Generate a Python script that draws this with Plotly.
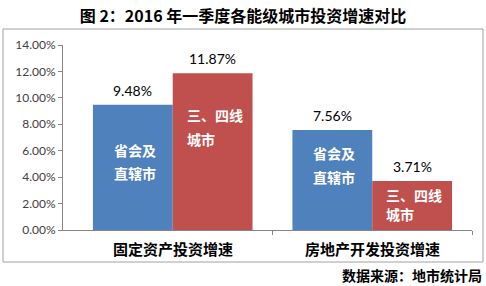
import plotly.graph_objects as go

categories = ["固定资产投资增速", "房地产开发投资增速"]
series_names = ["省会及<br>直辖市", "三、四线<br>城市"]
blue_values = [9.48, 7.56]
red_values = [11.87, 3.71]
y_ticks = [0, 2, 4, 6, 8, 10, 12, 14]

BLUE = "#4F81BD"
RED = "#C0504D"
AXIS = "#868686"
CJK = "Noto Sans CJK SC"
NUM = "Lato"

# pixel offsets (below bar top) of the two inner label lines, per bar
blue_line_offsets = [(45, 68), (23, 47)]
red_line_offsets = [(42, 66), (14, 33)]

xs = list(range(len(categories)))
fig = go.Figure()
fig.add_bar(x=xs, y=blue_values, marker=dict(color=BLUE, line=dict(width=0)), hoverinfo="skip")
fig.add_bar(x=xs, y=red_values, marker=dict(color=RED, line=dict(width=0)), hoverinfo="skip")

annotations = []
for vals, offset, names_off, label in [
    (blue_values, -0.2, blue_line_offsets, series_names[0]),
    (red_values, 0.2, red_line_offsets, series_names[1]),
]:
    lines = label.split("<br>")
    longest = max(len(l) for l in lines)
    for i, v in enumerate(vals):
        annotations.append(dict(
            x=i + offset, y=v, xref="x", yref="y", text=f"{v:.2f}%",
            showarrow=False, yanchor="middle", yshift=14.5,
            font=dict(family=NUM, size=14, color="#000000")))
        for li, line in enumerate(lines):
            annotations.append(dict(
                x=i + offset, y=v, xref="x", yref="y", text=line,
                showarrow=False, xanchor="left", yanchor="middle",
                xshift=-14 * longest / 2, yshift=-names_off[i][li],
                font=dict(family=CJK, size=14, color="#FFFFFF", weight="bold")))

for i, c in enumerate(categories):
    annotations.append(dict(
        x=i, y=-0.1027, xref="x", yref="paper", text=c, showarrow=False,
        yanchor="middle", font=dict(family=CJK, size=15, color="#000000", weight="bold")))

annotations.append(dict(
    x=1.029, y=-0.243, xref="paper", yref="paper", text="数据来源：地市统计局",
    showarrow=False, xanchor="right", yanchor="middle",
    font=dict(family=CJK, size=14, color="#000000", weight="bold")))

fig.update_layout(
    width=486, height=286,
    margin=dict(l=63, r=14, t=45, b=56),
    paper_bgcolor="white", plot_bgcolor="white",
    barmode="group", bargap=0.2, bargroupgap=0,
    showlegend=False,
    title=dict(text="图 2：2016 年一季度各能级城市投资增速对比", x=0.5, xref="container",
               y=1 - 16 / 286, yref="container", xanchor="center", yanchor="middle",
               font=dict(family=CJK, size=16, color="#000000", weight="bold")),
    xaxis=dict(range=[-0.55, 1.5], tickvals=[0.5, 1.5], ticktext=["", ""],
               ticks="outside", ticklen=4, tickcolor=AXIS, showline=True,
               linecolor=AXIS, linewidth=1, showgrid=False, zeroline=False,
               fixedrange=True),
    yaxis=dict(range=[0, 14], tickvals=y_ticks, ticktext=[f"{t:.2f}%" for t in y_ticks],
               ticks="outside", ticklen=4, tickcolor=AXIS, showline=True,
               linecolor=AXIS, linewidth=1, showgrid=False, zeroline=False,
               tickfont=dict(family=NUM, size=12, color="#404040")),
    annotations=annotations,
    shapes=[dict(type="rect", xref="paper", yref="paper", x0=-0.1467, x1=1.0269,
                 y0=-0.173, y1=1.0865, line=dict(color="#A0A0A0", width=1),
                 fillcolor="rgba(0,0,0,0)", layer="below")],
)

fig.write_html("out.html")
